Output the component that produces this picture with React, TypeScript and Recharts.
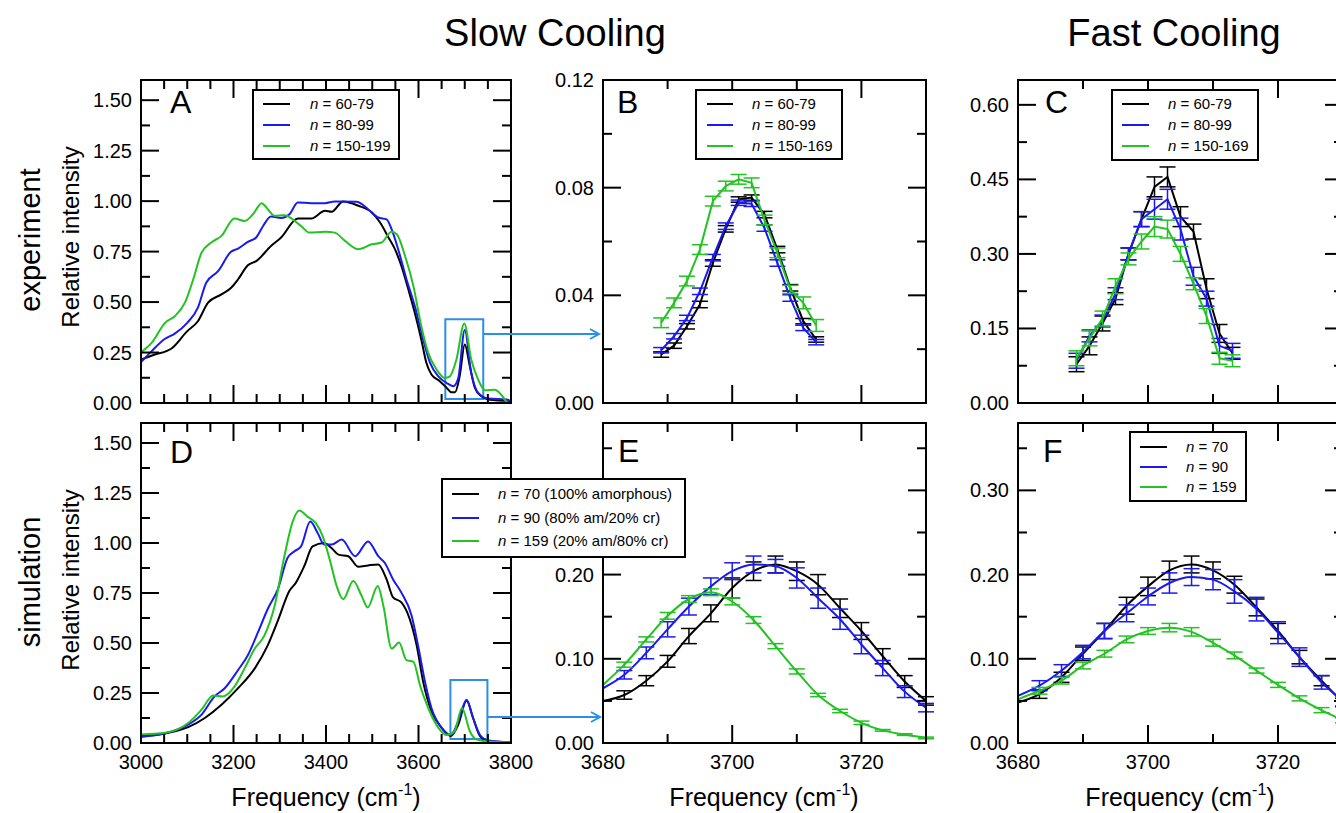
import React from 'react'
import { LineChart, Line, XAxis, YAxis, ErrorBar, ReferenceArea } from 'recharts'

const FONT = '"Liberation Sans", Arial, Helvetica, sans-serif'
const BLACK = '#000000'
const BLUE = '#1a1af0'
const GREEN = '#22c322'
const HILITE = '#2b8fe8'

// ---------- A: experiment, slow cooling, whole band
const aBlackX = [3000, 3030, 3066, 3100, 3123, 3145, 3174, 3195, 3210, 3231, 3250, 3281, 3303, 3339, 3368, 3398, 3412, 3437, 3470, 3499, 3517, 3535, 3549, 3563, 3578, 3592, 3606, 3617, 3628, 3646, 3661, 3671, 3679, 3689, 3700, 3711, 3722, 3736, 3751, 3794, 3800]
const aBlackY = [0.215, 0.24, 0.27, 0.356, 0.405, 0.497, 0.538, 0.571, 0.613, 0.682, 0.704, 0.778, 0.82, 0.914, 0.914, 0.952, 0.947, 0.998, 0.977, 0.944, 0.894, 0.82, 0.762, 0.679, 0.563, 0.447, 0.315, 0.199, 0.141, 0.108, 0.075, 0.053, 0.053, 0.132, 0.29, 0.182, 0.075, 0.033, 0.017, 0.008, 0.005]
const aBlueX = [3000, 3023, 3052, 3073, 3100, 3123, 3141, 3167, 3194, 3210, 3231, 3249, 3264, 3281, 3303, 3321, 3339, 3368, 3398, 3419, 3466, 3491, 3513, 3531, 3542, 3556, 3574, 3592, 3610, 3625, 3643, 3661, 3675, 3686, 3700, 3714, 3729, 3751, 3790, 3800]
const aBlueY = [0.202, 0.257, 0.318, 0.344, 0.397, 0.472, 0.596, 0.654, 0.748, 0.765, 0.798, 0.82, 0.877, 0.924, 0.916, 0.935, 0.993, 0.99, 0.99, 0.998, 0.997, 0.96, 0.919, 0.91, 0.86, 0.762, 0.613, 0.48, 0.315, 0.199, 0.132, 0.099, 0.083, 0.124, 0.362, 0.149, 0.05, 0.022, 0.017, 0.01]
const aGreenX = [3000, 3023, 3052, 3073, 3095, 3113, 3131, 3152, 3174, 3202, 3224, 3242, 3261, 3274, 3289, 3310, 3328, 3346, 3364, 3398, 3419, 3441, 3470, 3499, 3520, 3542, 3553, 3571, 3589, 3606, 3621, 3639, 3657, 3668, 3682, 3699, 3714, 3729, 3744, 3765, 3779, 3792, 3800]
const aGreenY = [0.252, 0.298, 0.397, 0.43, 0.497, 0.613, 0.745, 0.795, 0.828, 0.914, 0.902, 0.935, 0.99, 0.96, 0.927, 0.93, 0.91, 0.877, 0.844, 0.848, 0.844, 0.803, 0.762, 0.786, 0.795, 0.848, 0.836, 0.728, 0.579, 0.381, 0.248, 0.166, 0.124, 0.132, 0.215, 0.394, 0.215, 0.116, 0.063, 0.066, 0.041, 0.003, 0.0]

// ---------- D: simulation, whole band
const dBlackX = [3000, 3052, 3102, 3138, 3174, 3210, 3246, 3274, 3296, 3321, 3335, 3353, 3371, 3396, 3412, 3427, 3448, 3470, 3491, 3513, 3531, 3545, 3563, 3581, 3596, 3610, 3628, 3650, 3670, 3686, 3704, 3718, 3733, 3751, 3800]
const dBlackY = [0.035, 0.048, 0.079, 0.125, 0.191, 0.274, 0.373, 0.488, 0.612, 0.761, 0.802, 0.884, 0.983, 1.0, 0.975, 0.942, 0.934, 0.881, 0.888, 0.893, 0.818, 0.728, 0.703, 0.62, 0.488, 0.307, 0.158, 0.076, 0.035, 0.092, 0.213, 0.125, 0.035, 0.01, 0.003]
const dBlueX = [3000, 3052, 3102, 3131, 3159, 3181, 3210, 3231, 3253, 3274, 3296, 3317, 3332, 3346, 3366, 3382, 3396, 3412, 3434, 3463, 3491, 3513, 3527, 3545, 3563, 3585, 3599, 3614, 3628, 3650, 3670, 3686, 3704, 3718, 3733, 3751, 3800]
const dBlueY = [0.03, 0.048, 0.092, 0.142, 0.233, 0.274, 0.365, 0.439, 0.554, 0.67, 0.769, 0.926, 0.959, 0.983, 1.107, 1.05, 0.992, 0.992, 1.017, 0.934, 1.008, 0.934, 0.901, 0.818, 0.752, 0.637, 0.488, 0.307, 0.175, 0.076, 0.04, 0.109, 0.216, 0.125, 0.04, 0.013, 0.003]
const dGreenX = [3000, 3052, 3102, 3131, 3156, 3177, 3202, 3224, 3246, 3267, 3289, 3310, 3328, 3342, 3360, 3378, 3393, 3409, 3423, 3437, 3459, 3477, 3490, 3512, 3524, 3542, 3558, 3574, 3589, 3603, 3621, 3643, 3661, 3678, 3694, 3711, 3725, 3751, 3800]
const dGreenY = [0.043, 0.051, 0.1, 0.167, 0.238, 0.233, 0.282, 0.373, 0.472, 0.538, 0.686, 0.934, 1.107, 1.162, 1.132, 1.099, 1.033, 0.909, 0.785, 0.719, 0.81, 0.736, 0.678, 0.785, 0.686, 0.472, 0.502, 0.414, 0.406, 0.29, 0.175, 0.076, 0.04, 0.059, 0.175, 0.059, 0.018, 0.007, 0.003]

// ---------- B / C: experiment, free OH peak
const bcFreq = [3689, 3691, 3693, 3695, 3697, 3699, 3701, 3703, 3705, 3707, 3709, 3711, 3713]
const bBlack = [0.018, 0.0213, 0.0285, 0.0366, 0.052, 0.0647, 0.0756, 0.0763, 0.07, 0.057, 0.0428, 0.0304, 0.0236]
const bBlackErr = [0.001, 0.001, 0.001, 0.0012, 0.0012, 0.0012, 0.001, 0.001, 0.0012, 0.0012, 0.0012, 0.001, 0.001]
const bBlue = [0.0196, 0.0248, 0.0316, 0.0415, 0.054, 0.0657, 0.0744, 0.074, 0.065, 0.052, 0.039, 0.0279, 0.0226]
const bBlueErr = [0.001, 0.001, 0.001, 0.0012, 0.0012, 0.0012, 0.001, 0.001, 0.0012, 0.0012, 0.0012, 0.001, 0.001]
const bGreen = [0.0298, 0.0372, 0.0453, 0.057, 0.075, 0.0806, 0.0831, 0.0818, 0.068, 0.0558, 0.0422, 0.0372, 0.0288]
const bGreenErr = [0.0018, 0.0018, 0.0018, 0.0018, 0.0018, 0.0018, 0.0018, 0.0018, 0.0018, 0.0018, 0.0015, 0.0022, 0.0022]

const cBlack = [0.078, 0.115, 0.16, 0.21, 0.3, 0.37, 0.435, 0.455, 0.375, 0.345, 0.23, 0.14, 0.1]
const cBlackErr = [0.015, 0.018, 0.015, 0.012, 0.012, 0.015, 0.02, 0.02, 0.02, 0.015, 0.02, 0.018, 0.012]
const cBlue = [0.085, 0.135, 0.165, 0.22, 0.3, 0.37, 0.39, 0.41, 0.35, 0.255, 0.21, 0.115, 0.105]
const cBlueErr = [0.015, 0.012, 0.012, 0.012, 0.012, 0.015, 0.02, 0.02, 0.022, 0.018, 0.015, 0.015, 0.015]
const cGreen = [0.09, 0.13, 0.17, 0.235, 0.29, 0.325, 0.355, 0.35, 0.3, 0.24, 0.175, 0.09, 0.085]
const cGreenErr = [0.015, 0.015, 0.015, 0.015, 0.012, 0.015, 0.02, 0.018, 0.015, 0.012, 0.015, 0.012, 0.012]

// ---------- E / F: simulation, free OH peak
const efFreq = [3680, 3683.3, 3686.7, 3690, 3693.3, 3696.7, 3700, 3703.3, 3706.7, 3710, 3713.3, 3716.7, 3720, 3723.3, 3726.7, 3730]
const eBlack = [0.05, 0.057, 0.074, 0.097, 0.127, 0.154, 0.184, 0.204, 0.212, 0.204, 0.188, 0.16, 0.133, 0.103, 0.073, 0.05]
const eBlackErr = [0, 0.005, 0.006, 0.007, 0.009, 0.01, 0.012, 0.011, 0.01, 0.011, 0.012, 0.011, 0.01, 0.009, 0.007, 0.005]
const eBlue = [0.065, 0.081, 0.107, 0.135, 0.162, 0.186, 0.204, 0.212, 0.21, 0.196, 0.172, 0.147, 0.117, 0.089, 0.061, 0.042]
const eBlueErr = [0, 0.005, 0.007, 0.009, 0.01, 0.01, 0.01, 0.01, 0.008, 0.012, 0.012, 0.012, 0.011, 0.009, 0.007, 0.005]
const eGreen = [0.069, 0.093, 0.123, 0.151, 0.171, 0.179, 0.168, 0.146, 0.115, 0.085, 0.057, 0.038, 0.024, 0.015, 0.01, 0.006]
const eGreenErr = [0, 0.003, 0.003, 0.004, 0.004, 0.004, 0.004, 0.004, 0.003, 0.003, 0.002, 0.002, 0.002, 0.001, 0.001, 0.001]

const fBlack = [0.048, 0.058, 0.078, 0.106, 0.133, 0.163, 0.186, 0.205, 0.212, 0.205, 0.188, 0.161, 0.133, 0.102, 0.074, 0.048]
const fBlackErr = [0, 0.005, 0.006, 0.008, 0.009, 0.01, 0.011, 0.011, 0.01, 0.01, 0.01, 0.01, 0.009, 0.008, 0.006, 0.005]
const fBlue = [0.056, 0.068, 0.086, 0.108, 0.133, 0.154, 0.174, 0.19, 0.197, 0.194, 0.18, 0.159, 0.131, 0.102, 0.072, 0.05]
const fBlueErr = [0, 0.006, 0.007, 0.008, 0.009, 0.01, 0.01, 0.012, 0.01, 0.012, 0.014, 0.014, 0.013, 0.011, 0.008, 0.006]
const fGreen = [0.052, 0.062, 0.074, 0.092, 0.106, 0.123, 0.133, 0.137, 0.132, 0.119, 0.104, 0.086, 0.069, 0.053, 0.039, 0.027]
const fGreenErr = [0, 0.004, 0.004, 0.004, 0.004, 0.004, 0.004, 0.005, 0.005, 0.004, 0.004, 0.003, 0.003, 0.003, 0.003, 0.003]

// ---------- ticks
const wideTicks = [3000, 3050, 3100, 3150, 3200, 3250, 3300, 3350, 3400, 3450, 3500, 3550, 3600, 3650, 3700, 3750, 3800]
const wideMajor = [3000, 3200, 3400, 3600, 3800]
const narrowTicks = [3680, 3690, 3700, 3710, 3720, 3730]
const narrowMajor = [3680, 3700, 3720]
const fullTicks = [0, 0.125, 0.25, 0.375, 0.5, 0.625, 0.75, 0.875, 1.0, 1.125, 1.25, 1.375, 1.5]
const fullMajor = [0, 0.25, 0.5, 0.75, 1.0, 1.25, 1.5]
const bTicks = [0, 0.02, 0.04, 0.06, 0.08, 0.1, 0.12]
const bMajor = [0, 0.04, 0.08, 0.12]
const cTicks = [0, 0.075, 0.15, 0.225, 0.3, 0.375, 0.45, 0.525, 0.6]
const cMajor = [0, 0.15, 0.3, 0.45, 0.6]
const efTicks = [0, 0.05, 0.1, 0.15, 0.2, 0.25, 0.3, 0.35]
const efMajor = [0, 0.1, 0.2, 0.3]
// in E the 0.30 label sits under the legend box
const eLabels = [0, 0.1, 0.2]

const expLegend = ['60-79', '80-99', '150-199']
const peakLegend = ['60-79', '80-99', '150-169']
const simLegend = ['70 (100% amorphous)', '90 (80% am/20% cr)', '159 (20% am/80% cr)']
const simPeakLegend = ['70', '90', '159']

type Pt = { x: number; y: number; e?: number }
type Ser = { name: string; color: string; pts: Pt[]; curve: 'monotone' | 'linear'; err?: boolean }

const pts = (xs: number[], ys: number[], es?: number[]): Pt[] =>
  xs.map((x, i) => ({ x, y: ys[i], e: es ? es[i] : undefined }))

const has = (list: number[], v: number) => list.some(m => Math.abs(m - v) < 1e-9)

function Panel(props: {
  rect: [number, number, number, number]
  xDomain: [number, number]
  yDomain: [number, number]
  xTicks: number[]
  xMajor: number[]
  showX: boolean
  yTicks: number[]
  yMajor: number[]
  yLabels?: number[]
  series: Ser[]
  box?: [number, number, number, number]
}) {
  const [x0, y0, x1, y1] = props.rect
  const pw = x1 - x0
  const ph = y1 - y0
  const L = 70, T = 10, R = 35, B = 40
  const W = pw + L + R
  const H = ph + T + B
  const yLabels = props.yLabels ?? props.yMajor

  const xTick = (p: any) => {
    const { x, y, payload } = p
    const major = has(props.xMajor, payload.value)
    const len = major ? 18 : 9
    return (
      <g>
        <line x1={x} x2={x} y1={y} y2={y - len} stroke={BLACK} strokeWidth={2} />
        <line x1={x} x2={x} y1={y - ph} y2={y - ph + len} stroke={BLACK} strokeWidth={2} />
        {props.showX && major && (
          <text x={x} y={y + 26} textAnchor="middle" fontSize={20} fontFamily={FONT} fill={BLACK}>
            {payload.value}
          </text>
        )}
      </g>
    )
  }

  const yTick = (p: any) => {
    const { x, y, payload } = p
    const major = has(props.yMajor, payload.value)
    const len = major ? 18 : 9
    return (
      <g>
        <line x1={x} x2={x + len} y1={y} y2={y} stroke={BLACK} strokeWidth={2} />
        <line x1={x + pw} x2={x + pw - len} y1={y} y2={y} stroke={BLACK} strokeWidth={2} />
        {has(yLabels, payload.value) && (
          <text x={x - 9} y={y + 7} textAnchor="end" fontSize={20} fontFamily={FONT} fill={BLACK}>
            {Number(payload.value).toFixed(2)}
          </text>
        )}
      </g>
    )
  }

  return (
    <div style={{ position: 'absolute', left: x0 - L, top: y0 - T, width: W, height: H }}>
      <LineChart width={W} height={H} margin={{ top: T, right: R, bottom: 0, left: 0 }}>
        <XAxis type="number" dataKey="x" domain={props.xDomain} ticks={props.xTicks} interval={0}
          height={B} tickSize={0} tickMargin={0} tickLine={false} axisLine={false} tick={xTick} allowDataOverflow />
        <YAxis type="number" dataKey="y" domain={props.yDomain} ticks={props.yTicks} interval={0}
          width={L} tickSize={0} tickMargin={0} tickLine={false} axisLine={false} tick={yTick} allowDataOverflow />
        {props.box && (
          <ReferenceArea x1={props.box[0]} x2={props.box[1]} y1={props.box[2]} y2={props.box[3]}
            stroke={HILITE} strokeWidth={2} fill="none" fillOpacity={0} ifOverflow="visible" />
        )}
        {props.series.map(s => (
          <Line key={s.name} data={s.pts} dataKey="y" type={s.curve} stroke={s.color} strokeWidth={2}
            dot={false} isAnimationActive={false}>
            {s.err && (
              <ErrorBar dataKey="e" direction="y" width={8} stroke={s.color} strokeWidth={1.5} isAnimationActive={false} />
            )}
          </Line>
        ))}
      </LineChart>
      <div style={{ position: 'absolute', left: L - 1, top: T - 1, width: pw + 2, height: ph + 2,
        border: '2px solid #000', boxSizing: 'border-box', pointerEvents: 'none' }} />
    </div>
  )
}

function LegendBox({ rect, rowY, lineX, textX, labels }: {
  rect: [number, number, number, number]; rowY: number[]; lineX: [number, number]; textX: number; labels: string[]
}) {
  const colors = [BLACK, BLUE, GREEN]
  const [l, t, r, b] = rect
  return (
    <div style={{ position: 'absolute', left: l, top: t, width: r - l, height: b - t, border: '2px solid #000',
      background: '#fff', boxSizing: 'border-box', fontFamily: FONT, fontSize: 15, color: BLACK }}>
      {labels.map((lab, i) => (
        <React.Fragment key={lab}>
          <div style={{ position: 'absolute', left: lineX[0] - 2, top: rowY[i] - 3, width: lineX[1] - lineX[0], height: 2, background: colors[i] }} />
          <div style={{ position: 'absolute', left: textX - 2, top: rowY[i] - 11, lineHeight: '18px', whiteSpace: 'nowrap' }}>
            <i>n</i> = {lab}
          </div>
        </React.Fragment>
      ))}
    </div>
  )
}

const TOP: [number, number] = [80, 403]
const BOT: [number, number] = [423, 743]
const COLA: [number, number] = [141, 511]
const COLB: [number, number] = [603, 926]
const COLC: [number, number] = [1018, 1343]

export default function App() {
  const txt = { fontFamily: FONT, fill: BLACK }
  const letter = (x: number, y: number, s: string) => (
    <text x={x} y={y} fontSize={32} {...txt}>{s}</text>
  )
  const freqTitle = (cx: number) => (
    <text x={cx} y={806} textAnchor="middle" fontSize={25} {...txt}>
      Frequency (cm<tspan dy={-11} fontSize={16}>-1</tspan><tspan dy={11}>)</tspan>
    </text>
  )
  return (
    <div style={{ position: 'absolute', left: 0, top: 0, width: 1336, height: 813, overflow: 'hidden', background: '#fff' }}>
      <Panel rect={[COLA[0], TOP[0], COLA[1], TOP[1]]} xDomain={[3000, 3800]} yDomain={[0, 1.6]}
        xTicks={wideTicks} xMajor={wideMajor} showX={false} yTicks={fullTicks} yMajor={fullMajor}
        box={[3658, 3740, 0.02, 0.415]}
        series={[
          { name: 'k', color: BLACK, pts: pts(aBlackX, aBlackY), curve: 'monotone' },
          { name: 'b', color: BLUE, pts: pts(aBlueX, aBlueY), curve: 'monotone' },
          { name: 'g', color: GREEN, pts: pts(aGreenX, aGreenY), curve: 'monotone' },
        ]} />
      <Panel rect={[COLB[0], TOP[0], COLB[1], TOP[1]]} xDomain={[3680, 3730]} yDomain={[0, 0.12]}
        xTicks={narrowTicks} xMajor={narrowMajor} showX={false} yTicks={bTicks} yMajor={bMajor}
        series={[
          { name: 'k', color: BLACK, pts: pts(bcFreq, bBlack, bBlackErr), curve: 'linear', err: true },
          { name: 'b', color: BLUE, pts: pts(bcFreq, bBlue, bBlueErr), curve: 'linear', err: true },
          { name: 'g', color: GREEN, pts: pts(bcFreq, bGreen, bGreenErr), curve: 'linear', err: true },
        ]} />
      <Panel rect={[COLC[0], TOP[0], COLC[1], TOP[1]]} xDomain={[3680, 3730]} yDomain={[0, 0.65]}
        xTicks={narrowTicks} xMajor={narrowMajor} showX={false} yTicks={cTicks} yMajor={cMajor}
        series={[
          { name: 'k', color: BLACK, pts: pts(bcFreq, cBlack, cBlackErr), curve: 'linear', err: true },
          { name: 'b', color: BLUE, pts: pts(bcFreq, cBlue, cBlueErr), curve: 'linear', err: true },
          { name: 'g', color: GREEN, pts: pts(bcFreq, cGreen, cGreenErr), curve: 'linear', err: true },
        ]} />
      <Panel rect={[COLA[0], BOT[0], COLA[1], BOT[1]]} xDomain={[3000, 3800]} yDomain={[0, 1.6]}
        xTicks={wideTicks} xMajor={wideMajor} showX={true} yTicks={fullTicks} yMajor={fullMajor}
        box={[3669, 3749, 0.02, 0.315]}
        series={[
          { name: 'k', color: BLACK, pts: pts(dBlackX, dBlackY), curve: 'monotone' },
          { name: 'b', color: BLUE, pts: pts(dBlueX, dBlueY), curve: 'monotone' },
          { name: 'g', color: GREEN, pts: pts(dGreenX, dGreenY), curve: 'monotone' },
        ]} />
      <Panel rect={[COLB[0], BOT[0], COLB[1], BOT[1]]} xDomain={[3680, 3730]} yDomain={[0, 0.38]}
        xTicks={narrowTicks} xMajor={narrowMajor} showX={true} yTicks={efTicks} yMajor={efMajor} yLabels={eLabels}
        series={[
          { name: 'k', color: BLACK, pts: pts(efFreq, eBlack, eBlackErr), curve: 'monotone', err: true },
          { name: 'b', color: BLUE, pts: pts(efFreq, eBlue, eBlueErr), curve: 'monotone', err: true },
          { name: 'g', color: GREEN, pts: pts(efFreq, eGreen, eGreenErr), curve: 'monotone', err: true },
        ]} />
      <Panel rect={[COLC[0], BOT[0], COLC[1], BOT[1]]} xDomain={[3680, 3730]} yDomain={[0, 0.38]}
        xTicks={narrowTicks} xMajor={narrowMajor} showX={true} yTicks={efTicks} yMajor={efMajor}
        series={[
          { name: 'k', color: BLACK, pts: pts(efFreq, fBlack, fBlackErr), curve: 'monotone', err: true },
          { name: 'b', color: BLUE, pts: pts(efFreq, fBlue, fBlueErr), curve: 'monotone', err: true },
          { name: 'g', color: GREEN, pts: pts(efFreq, fGreen, fGreenErr), curve: 'monotone', err: true },
        ]} />

      <svg width={1336} height={813} style={{ position: 'absolute', left: 0, top: 0, pointerEvents: 'none' }}>
        <text x={555} y={46} textAnchor="middle" fontSize={38} {...txt}>Slow Cooling</text>
        <text x={1174} y={46} textAnchor="middle" fontSize={38} {...txt}>Fast Cooling</text>
        <text transform="translate(40,240) rotate(-90)" textAnchor="middle" fontSize={29} {...txt}>experiment</text>
        <text transform="translate(40,582) rotate(-90)" textAnchor="middle" fontSize={29} {...txt}>simulation</text>
        <text transform="translate(79,237) rotate(-90)" textAnchor="middle" fontSize={24} {...txt}>Relative intensity</text>
        <text transform="translate(79,580) rotate(-90)" textAnchor="middle" fontSize={24} {...txt}>Relative intensity</text>
        {letter(170, 113, 'A')}
        {letter(617, 113, 'B')}
        {letter(1045, 113, 'C')}
        {letter(170, 463, 'D')}
        {letter(618, 462, 'E')}
        {letter(1043, 462, 'F')}
        {freqTitle(326)}
        {freqTitle(764)}
        {freqTitle(1180)}
        <line x1={484} y1={334} x2={599} y2={334} stroke={HILITE} strokeWidth={2} />
        <polyline points="590,329 599,334 590,339" stroke={HILITE} strokeWidth={2} fill="none" />
        <line x1={488} y1={717} x2={600} y2={717} stroke={HILITE} strokeWidth={2} />
        <polyline points="591,712 600,717 591,722" stroke={HILITE} strokeWidth={2} fill="none" />
      </svg>

      <LegendBox rect={[252, 89, 400, 160]} rowY={[15, 36, 57]} lineX={[11, 38]} textX={58} labels={expLegend} />
      <LegendBox rect={[695, 89, 843, 160]} rowY={[15, 36, 57]} lineX={[12, 38]} textX={57} labels={peakLegend} />
      <LegendBox rect={[1111, 89, 1259, 161]} rowY={[15, 36, 57]} lineX={[11, 38]} textX={57} labels={peakLegend} />
      <LegendBox rect={[441, 478, 686, 558]} rowY={[16, 40, 63]} lineX={[11, 38]} textX={57} labels={simLegend} />
      <LegendBox rect={[1129, 431, 1247, 502]} rowY={[16, 36, 56]} lineX={[11, 38]} textX={57} labels={simPeakLegend} />
    </div>
  )
}
